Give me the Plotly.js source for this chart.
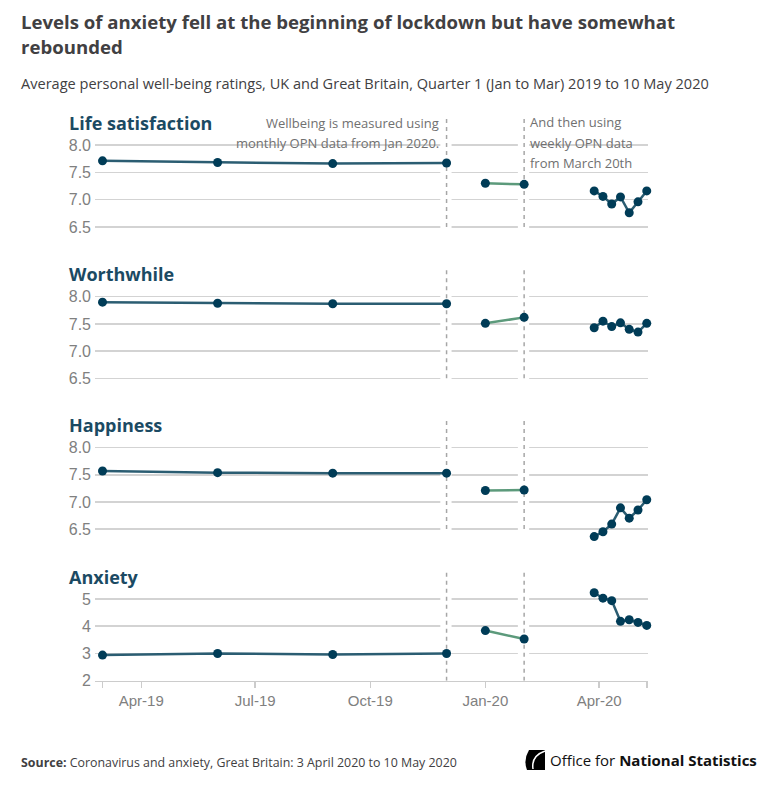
<!DOCTYPE html>
<html>
<head>
<meta charset="utf-8">
<script src="https://cdn.plot.ly/plotly-3.0.1.min.js"></script>
<style>html,body{margin:0;padding:0;background:#fff;}#chart{width:783px;height:794px;}</style>
</head>
<body>
<div id="chart"></div>
<script>
// ---- Data ----
const quarterDates = ['2019-03-01', '2019-06-01', '2019-09-01', '2019-12-01'];
const monthDates = ['2020-01-01', '2020-02-01'];
const weekDates = ['2020-03-28', '2020-04-04', '2020-04-11', '2020-04-18', '2020-04-25', '2020-05-02', '2020-05-09'];

const lifeQ = [7.71, 7.68, 7.66, 7.67];
const lifeM = [7.30, 7.28];
const lifeW = [7.16, 7.06, 6.92, 7.05, 6.76, 6.96, 7.16];

const worthQ = [7.90, 7.88, 7.87, 7.87];
const worthM = [7.51, 7.62];
const worthW = [7.43, 7.55, 7.45, 7.52, 7.40, 7.35, 7.51];

const happyQ = [7.57, 7.54, 7.53, 7.53];
const happyM = [7.21, 7.22];
const happyW = [6.36, 6.45, 6.59, 6.89, 6.70, 6.85, 7.04];

const anxQ = [2.94, 3.00, 2.96, 3.00];
const anxM = [3.84, 3.53];
const anxW = [5.23, 5.03, 4.94, 4.18, 4.24, 4.14, 4.03];

const panelNames = ['Life satisfaction', 'Worthwhile', 'Happiness', 'Anxiety'];
const wellTickVals = [6.5, 7, 7.5, 8];
const wellTickText = ['6.5', '7.0', '7.5', '8.0'];
const anxTickVals = [2, 3, 4, 5];
const anxTickText = ['2', '3', '4', '5'];
const xTickVals = ['2019-03-01', '2019-04-01', '2019-07-01', '2019-10-01', '2020-01-01', '2020-04-01', '2020-05-09'];
const xTickText = ['', 'Apr-19', 'Jul-19', 'Oct-19', 'Jan-20', 'Apr-20', ''];
const breakDates = ['2019-12-01', '2020-02-01'];

// ---- Geometry / style ----
const W = 783, H = 794, L = 95, R = 135;
const px2x = px => (px - L) / (W - L - R);
const py2y = py => 1 - py / H;
const dark = '#003c57', lineBlue = '#2b5d72', green = '#5c9a7b';
const tickFont = {family: 'Liberation Sans, Arial, sans-serif', size: 16, color: '#808080'};

const panels = [
  {q: lifeQ, m: lifeM, w: lifeW, pTop: 145, pBot: 227, vTop: 8, vBot: 6.5, rMin: 6.2, rMax: 8.5, tv: wellTickVals, tt: wellTickText, titleY: 123},
  {q: worthQ, m: worthM, w: worthW, pTop: 296.7, pBot: 378.3, vTop: 8, vBot: 6.5, rMin: 6.2, rMax: 8.5, tv: wellTickVals, tt: wellTickText, titleY: 274},
  {q: happyQ, m: happyM, w: happyW, pTop: 447.7, pBot: 529, vTop: 8, vBot: 6.5, rMin: 6.2, rMax: 8.5, tv: wellTickVals, tt: wellTickText, titleY: 425},
  {q: anxQ, m: anxM, w: anxW, pTop: 599, pBot: 680.7, vTop: 5, vBot: 2, rMin: 2, rMax: 6, tv: anxTickVals, tt: anxTickText, titleY: 577}
];

const traces = [];
const shapes = [];
const annotations = [];
const layout = {
  width: W, height: H,
  margin: {l: L, r: R, t: 0, b: 0, pad: 0},
  paper_bgcolor: '#fff', plot_bgcolor: '#fff',
  showlegend: false,
  font: {family: 'Open Sans, sans-serif'}
};

function shiftDate(d, days) {
  const t = new Date(d + 'T00:00:00Z');
  t.setUTCDate(t.getUTCDate() + days);
  return t.toISOString().slice(0, 10);
}

panels.forEach((p, i) => {
  const n = i === 0 ? '' : String(i + 1);
  const xa = 'x' + n, ya = 'y' + n;
  const ppu = (p.pBot - p.pTop) / (p.vTop - p.vBot);
  const topPx = p.pTop - (p.rMax - p.vTop) * ppu;
  const botPx = p.pBot + (p.vBot - p.rMin) * ppu;
  const isLast = i === panels.length - 1;

  layout['xaxis' + n] = {
    domain: [0, 1], anchor: ya,
    range: ['2019-02-23', '2020-05-10'], type: 'date',
    visible: isLast, showgrid: false, zeroline: false,
    tickmode: 'array', tickvals: xTickVals, ticktext: xTickText,
    ticks: 'outside', ticklen: 6, tickwidth: 1.5, tickcolor: '#cccccc',
    showline: true, linecolor: '#cccccc', linewidth: 1.5,
    tickfont: {family: 'Liberation Sans, Arial, sans-serif', size: 15, color: '#808080'},
    fixedrange: true
  };
  layout['yaxis' + n] = {
    domain: [py2y(botPx), py2y(topPx)], anchor: xa,
    range: [p.rMin, p.rMax],
    tickmode: 'array', tickvals: p.tv, ticktext: p.tt,
    showgrid: true, gridcolor: '#d3d3d3', gridwidth: 1.5,
    zeroline: false, showline: false, ticks: '',
    ticklabelstandoff: 3,
    tickfont: tickFont, fixedrange: true
  };

  const mk = {color: dark, size: 9};
  traces.push({x: quarterDates, y: p.q, xaxis: xa, yaxis: ya, type: 'scatter', mode: 'lines+markers',
    line: {color: lineBlue, width: 2.5}, marker: mk, cliponaxis: false, hoverinfo: 'x+y'});
  traces.push({x: monthDates, y: p.m, xaxis: xa, yaxis: ya, type: 'scatter', mode: 'lines+markers',
    line: {color: green, width: 2.5}, marker: mk, cliponaxis: false, hoverinfo: 'x+y'});
  traces.push({x: weekDates, y: p.w, xaxis: xa, yaxis: ya, type: 'scatter', mode: 'lines+markers',
    line: {color: lineBlue, width: 2.5}, marker: mk, cliponaxis: false, hoverinfo: 'x+y'});

  breakDates.forEach(d => {
    shapes.push({type: 'rect', xref: xa, yref: ya, layer: 'between',
      x0: shiftDate(d, -5), x1: shiftDate(d, 4), y0: p.rMin, y1: p.rMax,
      fillcolor: '#ffffff', line: {width: 0}});
  });
  breakDates.forEach(d => {
    shapes.push({type: 'line', xref: xa, yref: ya, layer: 'between',
      x0: d, x1: d, y0: p.vBot, y1: p.rMax,
      line: {color: '#a6a6a6', width: 1.5, dash: '4px,4px'}});
  });

  annotations.push({xref: 'paper', yref: 'paper', x: px2x(67), y: py2y(p.titleY),
    xanchor: 'left', yanchor: 'middle', showarrow: false,
    text: '<b>' + panelNames[i] + '</b>',
    font: {family: 'Open Sans, sans-serif', size: 18, color: '#1b4a63'}});
});

const noteFont = {family: 'Open Sans, sans-serif', size: 13, color: '#707070'};
[['Wellbeing is measured using', 123], ['monthly OPN data from Jan 2020.', 143]].forEach(([t, y]) => {
  annotations.push({xref: 'paper', yref: 'paper', x: px2x(441), y: py2y(y), xanchor: 'right', yanchor: 'middle',
    showarrow: false, text: t, font: noteFont});
});
[['And then using', 122], ['weekly OPN data', 143], ['from March 20th', 163]].forEach(([t, y]) => {
  annotations.push({xref: 'paper', yref: 'paper', x: px2x(528), y: py2y(y), xanchor: 'left', yanchor: 'middle',
    showarrow: false, text: t, font: noteFont});
});

const titleFont = {family: 'Open Sans, sans-serif', size: 18.6, color: '#414042'};
annotations.push({xref: 'paper', yref: 'paper', x: px2x(19), y: py2y(21), xanchor: 'left', yanchor: 'middle', showarrow: false,
  text: '<b>Levels of anxiety fell at the beginning of lockdown but have somewhat</b>', font: titleFont});
annotations.push({xref: 'paper', yref: 'paper', x: px2x(19), y: py2y(46), xanchor: 'left', yanchor: 'middle', showarrow: false,
  text: '<b>rebounded</b>', font: titleFont});
annotations.push({xref: 'paper', yref: 'paper', x: px2x(19), y: py2y(83), xanchor: 'left', yanchor: 'middle', showarrow: false,
  text: 'Average personal well-being ratings, UK and Great Britain, Quarter 1 (Jan to Mar) 2019 to 10 May 2020',
  font: {family: 'Open Sans, sans-serif', size: 14.55, color: '#414042'}});
annotations.push({xref: 'paper', yref: 'paper', x: px2x(19), y: py2y(762), xanchor: 'left', yanchor: 'middle', showarrow: false,
  text: '<b>Source:</b> Coronavirus and anxiety, Great Britain: 3 April 2020 to 10 May 2020',
  font: {family: 'Open Sans, sans-serif', size: 12.4, color: '#414042'}});
annotations.push({xref: 'paper', yref: 'paper', x: px2x(548), y: py2y(760), xanchor: 'left', yanchor: 'middle', showarrow: false,
  text: 'Office for <b>National Statistics</b>',
  font: {family: 'Open Sans, sans-serif', size: 15, color: '#111111'}});

shapes.push({type: 'path', xref: 'paper', yref: 'paper', xsizemode: 'pixel', ysizemode: 'pixel',
  xanchor: px2x(523), yanchor: py2y(770), layer: 'above',
  path: 'M 4 0 L 22 0 L 22 20 L 6 20 Q 0 10 4 0 Z', fillcolor: '#000000', line: {width: 0}});
shapes.push({type: 'path', xref: 'paper', yref: 'paper', xsizemode: 'pixel', ysizemode: 'pixel',
  xanchor: px2x(523), yanchor: py2y(770), layer: 'above',
  path: 'M 22 19 Q 8 14 10 1', fillcolor: 'rgba(0,0,0,0)', line: {color: '#ffffff', width: 1.5}});

layout.shapes = shapes;
layout.annotations = annotations;

Plotly.newPlot('chart', traces, layout, {displayModeBar: false, staticPlot: true});
</script>
</body>
</html>
